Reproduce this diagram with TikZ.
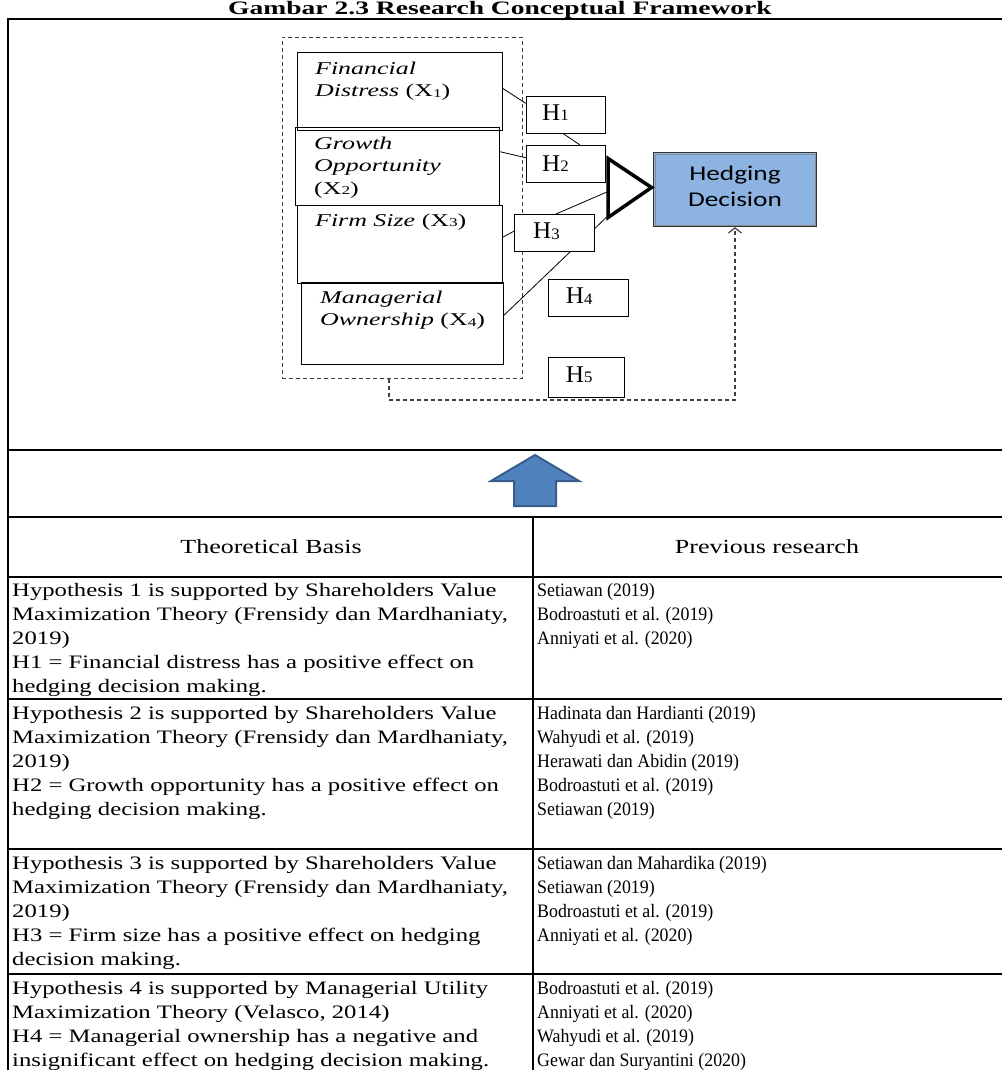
\documentclass[tikz,border=0pt]{standalone}
\usepackage{fontspec}
\setmainfont{Liberation Serif}
\newfontfamily\ttlfont[FakeStretch=1.45]{Liberation Serif}
\newfontfamily\hdrfont[FakeStretch=1.3]{Liberation Serif}
\newfontfamily\leftfont[FakeStretch=1.3]{Liberation Serif}
\newfontfamily\rightfont[FakeStretch=0.94]{Liberation Serif}
\newfontfamily\labfont[FakeStretch=1.44]{Liberation Serif}
\newfontfamily\hfont[FakeStretch=1.05]{Liberation Serif}
\newfontfamily\califont[FakeStretch=1.3]{Carlito}
\usetikzlibrary{arrows.meta,calc}
\definecolor{hdfill}{HTML}{8DB3E2}
\definecolor{arrfill}{HTML}{4F81BD}
\definecolor{arrdraw}{HTML}{385D8A}
\newcommand{\xsubd}[1]{\raisebox{-0.5pt}{\fontsize{12}{12}\selectfont #1}}
\newcommand{\hsubd}[1]{\raisebox{-0.5pt}{\fontsize{16}{16}\selectfont #1}}
\tikzset{
  frameline/.style={line width=2pt, black},
  varbox/.style={draw, line width=0.9pt, rectangle, inner sep=0pt, anchor=north west},
  hbox/.style={draw, fill=white, line width=1pt, rectangle, inner sep=0pt, anchor=north west},
  conn/.style={line width=0.8pt},
  dashln/.style={draw=black!75, line width=1.2pt, dash pattern=on 4pt off 3pt},
  lab/.style={anchor=north west, inner sep=0pt, align=left, font=\labfont\itshape\fontsize{18}{22.5}\selectfont},
  hl/.style={anchor=base west, inner sep=0pt, font=\hfont\fontsize{24}{24}\selectfont},
  cellL/.style={anchor=north west, inner sep=0pt, align=left, font=\leftfont\fontsize{19}{24}\selectfont},
  cellR/.style={anchor=north west, inner sep=0pt, align=left, font=\rightfont\fontsize{19}{24}\selectfont},
  hdr/.style={anchor=base, inner sep=0pt, font=\hdrfont\fontsize{20}{24}\selectfont},
}
\begin{document}
\begin{tikzpicture}[x=1pt,y=-1pt]
\useasboundingbox (0,0) rectangle (1001,1070);

% title
\node[anchor=base, inner sep=0pt, font=\ttlfont\bfseries\fontsize{19}{19}\selectfont] (title) at (500,14.5) {Gambar 2.3 Research Conceptual Framework};

% outer frame and table rules
\draw[frameline] (1003,19) -- (8,19) -- (8,1072);
\draw[frameline] (8,450) -- (1003,450);
\draw[frameline] (8,517) -- (1003,517);
\draw[frameline] (8,577) -- (1003,577);
\draw[frameline] (8,699) -- (1003,699);
\draw[frameline] (8,849) -- (1003,849);
\draw[frameline] (8,974) -- (1003,974);
\draw[line width=1.5pt] (533,517) -- (533,1072);

% dashed group box
\node[draw=black!75, line width=1.2pt, dash pattern=on 4pt off 3pt, rectangle, inner sep=0pt, anchor=north west,
      minimum width=240.3pt, minimum height=341.3pt] (grp) at (281.7,36.7) {};

% variable boxes
\node[varbox, minimum width=205pt, minimum height=78.3pt] (X1) at (296.7,51.7) {};
\node[varbox, minimum width=204pt, minimum height=78.3pt] (X2) at (295,126.7) {};
\node[varbox, minimum width=204.4pt, minimum height=78.3pt] (X3) at (297.3,205) {};
\node[varbox, minimum width=202.6pt, minimum height=82.6pt] (X4) at (300.7,281.7) {};

\node[lab] (X1t) at (315,58.5) {\strut Financial\\Distress \textup{(X\xsubd{1})}};
\node[lab] (X2t) at (314,133.3) {\strut Growth\\Opportunity\\\textup{(X\xsubd{2})}};
\node[lab] (X3t) at (315,210.3) {\strut Firm Size \textup{(X\xsubd{3})}};
\node[lab] (X4t) at (320,287.3) {\strut Managerial\\Ownership \textup{(X\xsubd{4})}};

% hypothesis boxes
\node[hbox, minimum width=79.3pt, minimum height=36.7pt] (H1) at (525.7,96) {};
\node[hbox, minimum width=79.3pt, minimum height=37.3pt] (H2) at (525.7,145) {};
\node[hbox, minimum width=79.7pt, minimum height=37pt] (H3) at (514.3,214) {};
\node[hbox, minimum width=80pt, minimum height=37pt] (H4) at (548.3,279) {};
\node[hbox, minimum width=75.7pt, minimum height=40pt] (H5) at (548.3,356.7) {};

\node[hl] (H1t) at (542,120.5) {H\hsubd{1}};
\node[hl] (H2t) at (542,171) {H\hsubd{2}};
\node[hl] (H3t) at (533,238.8) {H\hsubd{3}};
\node[hl] (H4t) at (565.7,303.8) {H\hsubd{4}};
\node[hl] (H5t) at (565.7,382) {H\hsubd{5}};

% dependent variable
\node[draw=black!80, line width=1.2pt, fill=hdfill, rectangle, inner sep=0pt, anchor=north west,
      minimum width=163.3pt, minimum height=74.3pt] (HD) at (652.7,151.7) {};
\draw[black!45, line width=0.7pt] ($(HD.north west)+(2.2,2.2)$) rectangle ($(HD.south east)+(-2.2,-2.2)$);
\node[inner sep=0pt, align=center, font=\califont\fontsize{21}{26}\selectfont] (HDt) at (735,186) {Hedging\\Decision};

% connectors
\draw[conn] (X1.east |- 0,88.3) -- (H1.west |- 0,103.3);
\draw[conn] (H1.south -| 563.3,0) -- (H2.north -| 580,0);
\draw[conn] (X2.east |- 0,151.7) -- (H2.west |- 0,157.7);
\draw[conn] (X3.east |- 0,237.3) -- (H3.west |- 0,231);
\coordinate (T1) at (608,158.5);
\coordinate (T2) at (608,217.5);
\coordinate (T3) at (651.5,187.5);
\draw[conn] (H3.north -| 556,0) -- ($(T1)!0.56!(T2)$);
\draw[conn] (H3.east |- 0,228.3) -- ($(T1)!0.97!(T2)$);
\draw[conn] (X4.east |- 0,315) -- (H3.south -| 570,0);
\draw[line width=3.5pt, line join=miter] (T1) -- (T3) -- (T2) -- cycle;

% H5 dashed path
\coordinate (d1) at (389,400);
\draw[dashln, -{Straight Barb[length=5pt,width=13pt]}] (grp.south -| d1) -- (d1) -| (HD.south);

% block arrow
\filldraw[fill=arrfill, draw=arrdraw, line width=2pt, line join=miter]
  (535,455) -- (579,481) -- (556,481) -- (556,506) -- (514,506) -- (514,481) -- (491,481) -- cycle;

% table header
\node[hdr] (hdrL) at (271,553) {Theoretical Basis};
\node[hdr] (hdrR) at (767,553) {Previous research};

% row 1
\node[cellL] (L1) at (12,579.7) {\strut Hypothesis 1 is supported by Shareholders Value\\Maximization Theory (Frensidy dan Mardhaniaty,\\2019)\\H1 = Financial distress has a positive effect on\\hedging decision making.};
\node[cellR] (R1) at (537,579.7) {\strut Setiawan (2019)\\Bodroastuti et al. (2019)\\Anniyati et al. (2020)};
% row 2
\node[cellL] (L2) at (12,702.7) {\strut Hypothesis 2 is supported by Shareholders Value\\Maximization Theory (Frensidy dan Mardhaniaty,\\2019)\\H2 = Growth opportunity has a positive effect on\\hedging decision making.};
\node[cellR] (R2) at (537,702.7) {\strut Hadinata dan Hardianti (2019)\\Wahyudi et al. (2019)\\Herawati dan Abidin (2019)\\Bodroastuti et al. (2019)\\Setiawan (2019)};
% row 3
\node[cellL] (L3) at (12,852.7) {\strut Hypothesis 3 is supported by Shareholders Value\\Maximization Theory (Frensidy dan Mardhaniaty,\\2019)\\H3 = Firm size has a positive effect on hedging\\decision making.};
\node[cellR] (R3) at (537,852.7) {\strut Setiawan dan Mahardika (2019)\\Setiawan (2019)\\Bodroastuti et al. (2019)\\Anniyati et al. (2020)};
% row 4
\node[cellL] (L4) at (12,977.7) {\strut Hypothesis 4 is supported by Managerial Utility\\Maximization Theory (Velasco, 2014)\\H4 = Managerial ownership has a negative and\\insignificant effect on hedging decision making.};
\node[cellR] (R4) at (537,977.7) {\strut Bodroastuti et al. (2019)\\Anniyati et al. (2020)\\Wahyudi et al. (2019)\\Gewar dan Suryantini (2020)};
\end{tikzpicture}
\end{document}
